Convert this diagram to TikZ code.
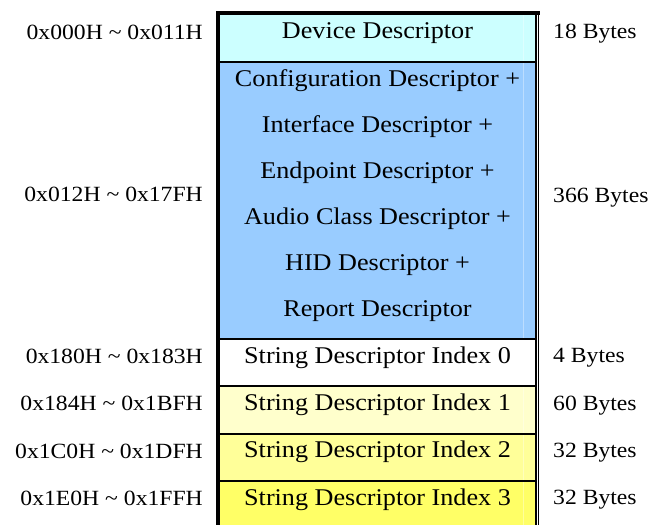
\documentclass[tikz,border=0pt]{standalone}
\usepackage{fontspec}
\setmainfont{Liberation Serif}
\usepackage{graphicx}
\definecolor{devc}{HTML}{CCFFFF}
\definecolor{cfgc}{HTML}{99CCFF}
\definecolor{s1c}{HTML}{FFFFCC}
\definecolor{s2c}{HTML}{FFFF99}
\definecolor{s3c}{HTML}{FFFF66}
\newcommand\hs[1]{\scalebox{1.09}[1]{#1}}
\begin{document}
\begin{tikzpicture}[x=1pt,y=-1pt,
  boxtxt/.style={font=\fontsize{24}{28}\selectfont, inner sep=0pt, anchor=base},
  lbl/.style={font=\fontsize{21.7}{26}\selectfont, inner sep=0pt, anchor=base east},
  rlbl/.style={font=\fontsize{21.7}{26}\selectfont, inner sep=0pt, anchor=base west},
  sepline/.style={line width=2pt, black}]
\useasboundingbox (0,0) rectangle (651,525);
% fills
\fill[devc] (218,13) rectangle (536,62);
\fill[cfgc] (218,62) rectangle (536,339);
\fill[white] (218,339) rectangle (536,386);
\fill[s1c] (218,386) rectangle (536,433.5);
\fill[s2c] (218,433.5) rectangle (536,481);
\fill[s3c] (218,481) rectangle (536,526);
% faint inner line
\draw[white, opacity=0.35, line width=1pt] (523.3,15) -- (523.3,526);
% separators
\draw[sepline] (218,62) -- (536,62);
\draw[sepline] (218,339) -- (536,339);
\draw[sepline] (218,386) -- (536,386);
\draw[sepline] (218,433.5) -- (536,433.5);
\draw[sepline] (218,481) -- (536,481);
% borders
\draw[line width=4pt] (218,11) -- (218,526);
\draw[line width=4pt] (216,13) -- (539.5,13);
\draw[line width=1.8pt] (535.8,11) -- (535.8,526);
\draw[line width=1.2pt] (538.8,11) -- (538.8,526);
% box texts
\node[boxtxt] (dev) at (377.5,38.5) {\hs{Device Descriptor}};
\node[boxtxt] (c1) at (377.5,86) {\hs{Configuration Descriptor +}};
\node[boxtxt] (c2) at (377.5,132.3) {\hs{Interface Descriptor +}};
\node[boxtxt] (c3) at (377.5,178.3) {\hs{Endpoint Descriptor +}};
\node[boxtxt] (c4) at (377.5,224.3) {\hs{Audio Class Descriptor +}};
\node[boxtxt] (c5) at (377.5,270.7) {\hs{HID Descriptor +}};
\node[boxtxt] (c6) at (377.5,316.7) {\hs{Report Descriptor}};
\node[boxtxt] (s0) at (377.5,363.3) {\hs{String Descriptor Index 0}};
\node[boxtxt] (s1) at (377.5,410.7) {\hs{String Descriptor Index 1}};
\node[boxtxt] (s2) at (377.5,457.8) {\hs{String Descriptor Index 2}};
\node[boxtxt] (s3) at (377.5,505) {\hs{String Descriptor Index 3}};
% left labels
\node[lbl] (a0) at (203,39) {\hs{0x000H \char`\~{} 0x011H}};
\node[lbl] (a1) at (203,201.7) {\hs{0x012H \char`\~{} 0x17FH}};
\node[lbl] (a2) at (203,363.3) {\hs{0x180H \char`\~{} 0x183H}};
\node[lbl] (a3) at (203,410.7) {\hs{0x184H \char`\~{} 0x1BFH}};
\node[lbl] (a4) at (203,458) {\hs{0x1C0H \char`\~{} 0x1DFH}};
\node[lbl] (a5) at (203,505) {\hs{0x1E0H \char`\~{} 0x1FFH}};
% right labels
\node[rlbl] (b0) at (553,38.5) {\hs{18 Bytes}};
\node[rlbl] (b1) at (553,202) {\hs{366 Bytes}};
\node[rlbl] (b2) at (553,362) {\hs{4 Bytes}};
\node[rlbl] (b3) at (553,410) {\hs{60 Bytes}};
\node[rlbl] (b4) at (553,457) {\hs{32 Bytes}};
\node[rlbl] (b5) at (553,504) {\hs{32 Bytes}};
\end{tikzpicture}
\end{document}
